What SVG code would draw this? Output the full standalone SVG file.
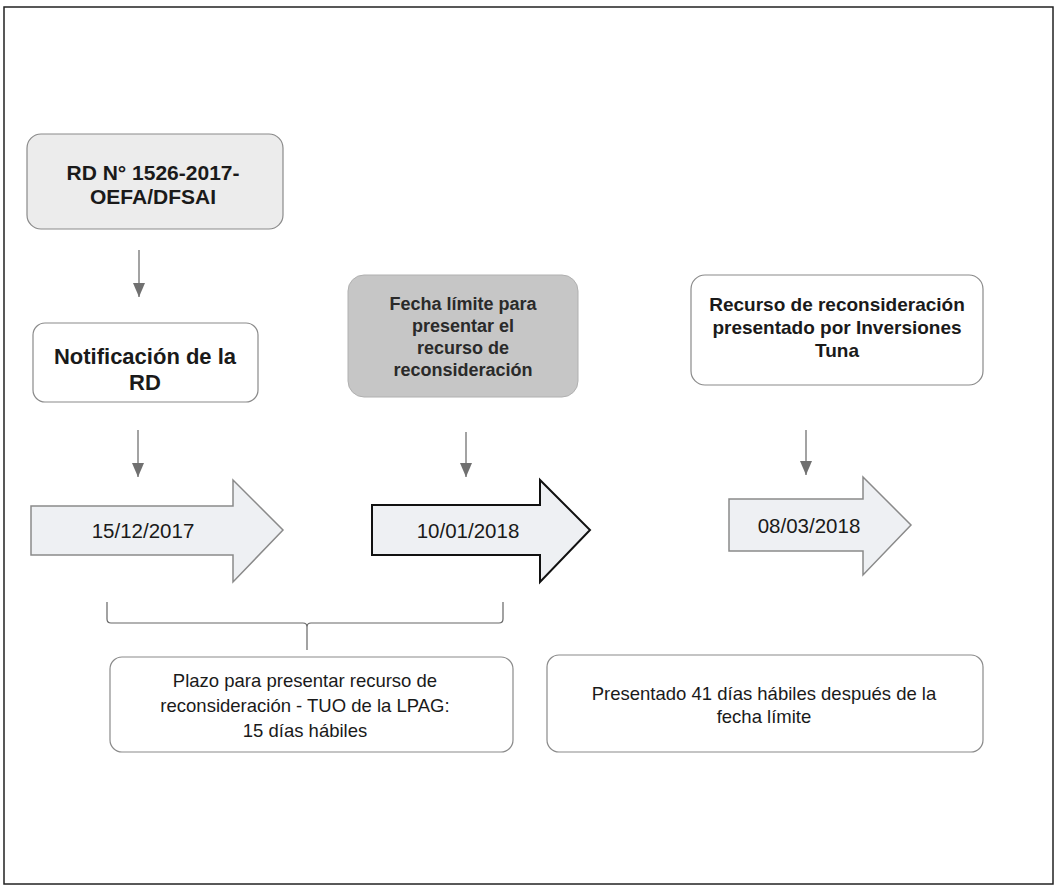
<svg xmlns="http://www.w3.org/2000/svg" width="1057" height="887" viewBox="0 0 1057 887">
<style>
text{font-family:"Liberation Sans",Arial,sans-serif;fill:#1a1a1a;text-anchor:middle}
.b{font-weight:bold;font-size:21px}
.nb{font-weight:bold;font-size:22px}
.f{font-weight:bold;font-size:18px;fill:#2a2a2a}
.rb{font-weight:bold;font-size:19px}
.r{font-size:18.5px}
.d{font-size:20.5px}
.box{stroke:#8a8a8a;stroke-width:1.2;fill:#fff}
.conn{stroke:#666;stroke-width:1.2;fill:none}
</style>
<defs>
<marker id="ah" markerWidth="14" markerHeight="12" refX="14" refY="6" orient="auto" markerUnits="userSpaceOnUse" viewBox="0 0 14 12">
<path d="M0,0 L14,6 L0,12 Z" fill="#707070"/>
</marker>
</defs>
<rect x="4" y="7" width="1049" height="877" fill="#fff" stroke="#222" stroke-width="1.5"/>
<g id="n1">
<rect x="27" y="134" width="256" height="95" rx="14" class="box" style="fill:#ececec"/>
<text class="b" x="153" y="180">RD N° 1526-2017-</text>
<text class="b" x="153" y="204">OEFA/DFSAI</text>
</g>
<g id="n2">
<rect x="33" y="323" width="225" height="79" rx="12" class="box"/>
<text class="nb" x="145" y="364">Notificación de la</text>
<text class="nb" x="145" y="390">RD</text>
</g>
<g id="n3">
<rect x="348" y="275" width="230" height="122" rx="16" fill="#c6c6c6" stroke="#b0b0b0"/>
<text class="f" x="463" y="310">Fecha límite para</text>
<text class="f" x="463" y="332">presentar el</text>
<text class="f" x="463" y="354">recurso de</text>
<text class="f" x="463" y="376">reconsideración</text>
</g>
<g id="n4">
<rect x="691" y="275" width="292" height="110" rx="14" class="box"/>
<text class="rb" x="837" y="311">Recurso de reconsideración</text>
<text class="rb" x="837" y="334">presentado por Inversiones</text>
<text class="rb" x="837" y="357">Tuna</text>
</g>
<g id="a1">
<path d="M31,506 L233,506 L233,480 L283,530 L233,582 L233,555 L31,555 Z" fill="#eef0f3" stroke="#8a8a8a" stroke-width="1.5"/>
<text class="d" x="143" y="538">15/12/2017</text>
</g>
<g id="a2">
<path d="M372,505 L540,505 L540,480 L590,530 L540,582 L540,555 L372,555 Z" fill="#eef0f3" stroke="#111" stroke-width="2"/>
<text class="d" x="468" y="538">10/01/2018</text>
</g>
<g id="a3">
<path d="M729,499 L863,499 L863,477 L911,525 L863,575 L863,551 L729,551 Z" fill="#eef0f3" stroke="#8a8a8a" stroke-width="1.5"/>
<text class="d" x="809" y="533">08/03/2018</text>
</g>
<g id="n5">
<rect x="110" y="657" width="403" height="95" rx="12" class="box"/>
<text class="r" x="305" y="687">Plazo para presentar recurso de</text>
<text class="r" x="305" y="712">reconsideración - TUO de la LPAG:</text>
<text class="r" x="305" y="737">15 días hábiles</text>
</g>
<g id="n6">
<rect x="547" y="655" width="436" height="97" rx="12" class="box"/>
<text class="r" x="764" y="700">Presentado 41 días hábiles después de la</text>
<text class="r" x="764" y="723">fecha límite</text>
</g>
<g id="connectors">
<line x1="139" y1="250" x2="139" y2="297" class="conn" marker-end="url(#ah)"/>
<line x1="138" y1="430" x2="138" y2="477" class="conn" marker-end="url(#ah)"/>
<line x1="466" y1="432" x2="466" y2="477" class="conn" marker-end="url(#ah)"/>
<line x1="806" y1="430" x2="806" y2="475" class="conn" marker-end="url(#ah)"/>
<path d="M107,602 L107,619 Q107,623 111,623 L303,623 Q307,623 307,627 L307,650 M307,627 Q307,623 311,623 L499,623 Q503,623 503,619 L503,602" class="conn" stroke="#888"/>
</g>
</svg>
